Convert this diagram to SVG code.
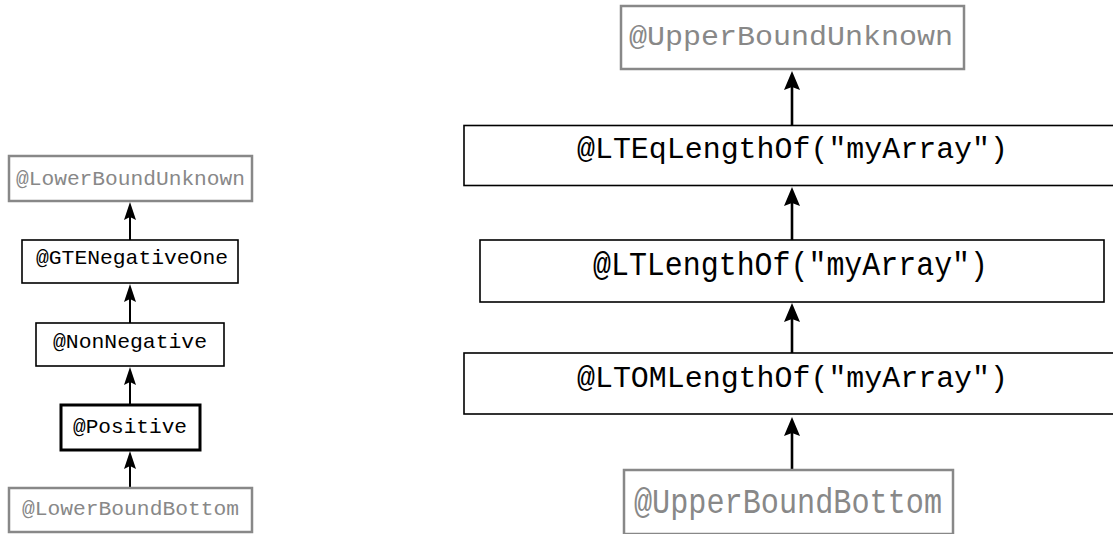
<svg xmlns="http://www.w3.org/2000/svg" width="1113" height="534" viewBox="0 0 1113 534">
<style>
.box{fill:#fff;stroke:#000;stroke-width:1.6}
.gray{fill:#fff;stroke:#888;stroke-width:2.5}
.thick{fill:#fff;stroke:#000;stroke-width:3}
.t{font-family:"Liberation Mono","DejaVu Sans Mono",monospace;fill:#000;text-anchor:middle}
.tg{fill:#888}
.conL{stroke:#000;stroke-width:2;fill:none}
.conR{stroke:#000;stroke-width:2.6;fill:none}
</style>
<defs>
<marker id="aL" markerUnits="userSpaceOnUse" markerWidth="20" markerHeight="14" refX="3" refY="6" orient="auto"><path d="M18,6 L0,0 L3,6 L0,12 Z" fill="#000"/></marker>
<marker id="aR" markerUnits="userSpaceOnUse" markerWidth="22" markerHeight="18" refX="3" refY="8" orient="auto"><path d="M19,8 L0,0 L3,8 L0,16 Z" fill="#000"/></marker>
</defs>
<rect width="1113" height="534" fill="#fff"/>
<g id="connectors">
<line class="conL" x1="130" y1="240" x2="130" y2="217" marker-end="url(#aL)"/>
<line class="conL" x1="130" y1="323" x2="130" y2="299" marker-end="url(#aL)"/>
<line class="conL" x1="130" y1="405" x2="130" y2="382" marker-end="url(#aL)"/>
<line class="conL" x1="130" y1="488" x2="130" y2="466" marker-end="url(#aL)"/>
<line class="conR" x1="792" y1="125" x2="792" y2="87" marker-end="url(#aR)"/>
<line class="conR" x1="792" y1="240" x2="792" y2="203" marker-end="url(#aR)"/>
<line class="conR" x1="792" y1="353" x2="792" y2="319" marker-end="url(#aR)"/>
<line class="conR" x1="792" y1="470" x2="792" y2="433" marker-end="url(#aR)"/>
</g>
<g id="lowerBoundUnknown">
<rect class="gray" x="9" y="156" width="243" height="45"/>
<text class="t tg" x="130.5" y="185" font-size="21" textLength="229" lengthAdjust="spacingAndGlyphs">@LowerBoundUnknown</text>
</g>
<g id="gteNegativeOne">
<rect class="box" x="22" y="240" width="216" height="43"/>
<text class="t" x="132" y="264" font-size="21" textLength="192" lengthAdjust="spacingAndGlyphs">@GTENegativeOne</text>
</g>
<g id="nonNegative">
<rect class="box" x="36" y="323" width="188" height="43"/>
<text class="t" x="130" y="348" font-size="21" textLength="154" lengthAdjust="spacingAndGlyphs">@NonNegative</text>
</g>
<g id="positive">
<rect class="thick" x="61" y="405" width="139" height="45"/>
<text class="t" x="130" y="433" font-size="21" textLength="114" lengthAdjust="spacingAndGlyphs">@Positive</text>
</g>
<g id="lowerBoundBottom">
<rect class="gray" x="9" y="488" width="243" height="44"/>
<text class="t tg" x="130.5" y="515" font-size="21" textLength="217" lengthAdjust="spacingAndGlyphs">@LowerBoundBottom</text>
</g>
<g id="upperBoundUnknown">
<rect class="gray" x="621" y="6" width="343" height="63" stroke-width="3"/>
<text class="t tg" x="791" y="45" font-size="28" textLength="324" lengthAdjust="spacingAndGlyphs">@UpperBoundUnknown</text>
</g>
<g id="lteqLengthOf">
<rect class="box" x="464" y="125.5" width="660" height="60" stroke-width="2"/>
<text class="t" x="792.5" y="158" font-size="30" textLength="431" lengthAdjust="spacingAndGlyphs">@LTEqLengthOf("myArray")</text>
</g>
<g id="ltLengthOf">
<rect class="box" x="480" y="240" width="624" height="62" stroke-width="2.4"/>
<text class="t" x="790.5" y="275" font-size="33" textLength="395" lengthAdjust="spacingAndGlyphs">@LTLengthOf("myArray")</text>
</g>
<g id="ltomLengthOf">
<rect class="box" x="464" y="353" width="660" height="61" stroke-width="2"/>
<text class="t" x="792.5" y="387" font-size="30" textLength="431" lengthAdjust="spacingAndGlyphs">@LTOMLengthOf("myArray")</text>
</g>
<g id="upperBoundBottom">
<rect class="gray" x="624" y="470" width="329" height="64" stroke-width="3"/>
<text class="t tg" x="788" y="513" font-size="35" textLength="308" lengthAdjust="spacingAndGlyphs">@UpperBoundBottom</text>
</g>
</svg>
